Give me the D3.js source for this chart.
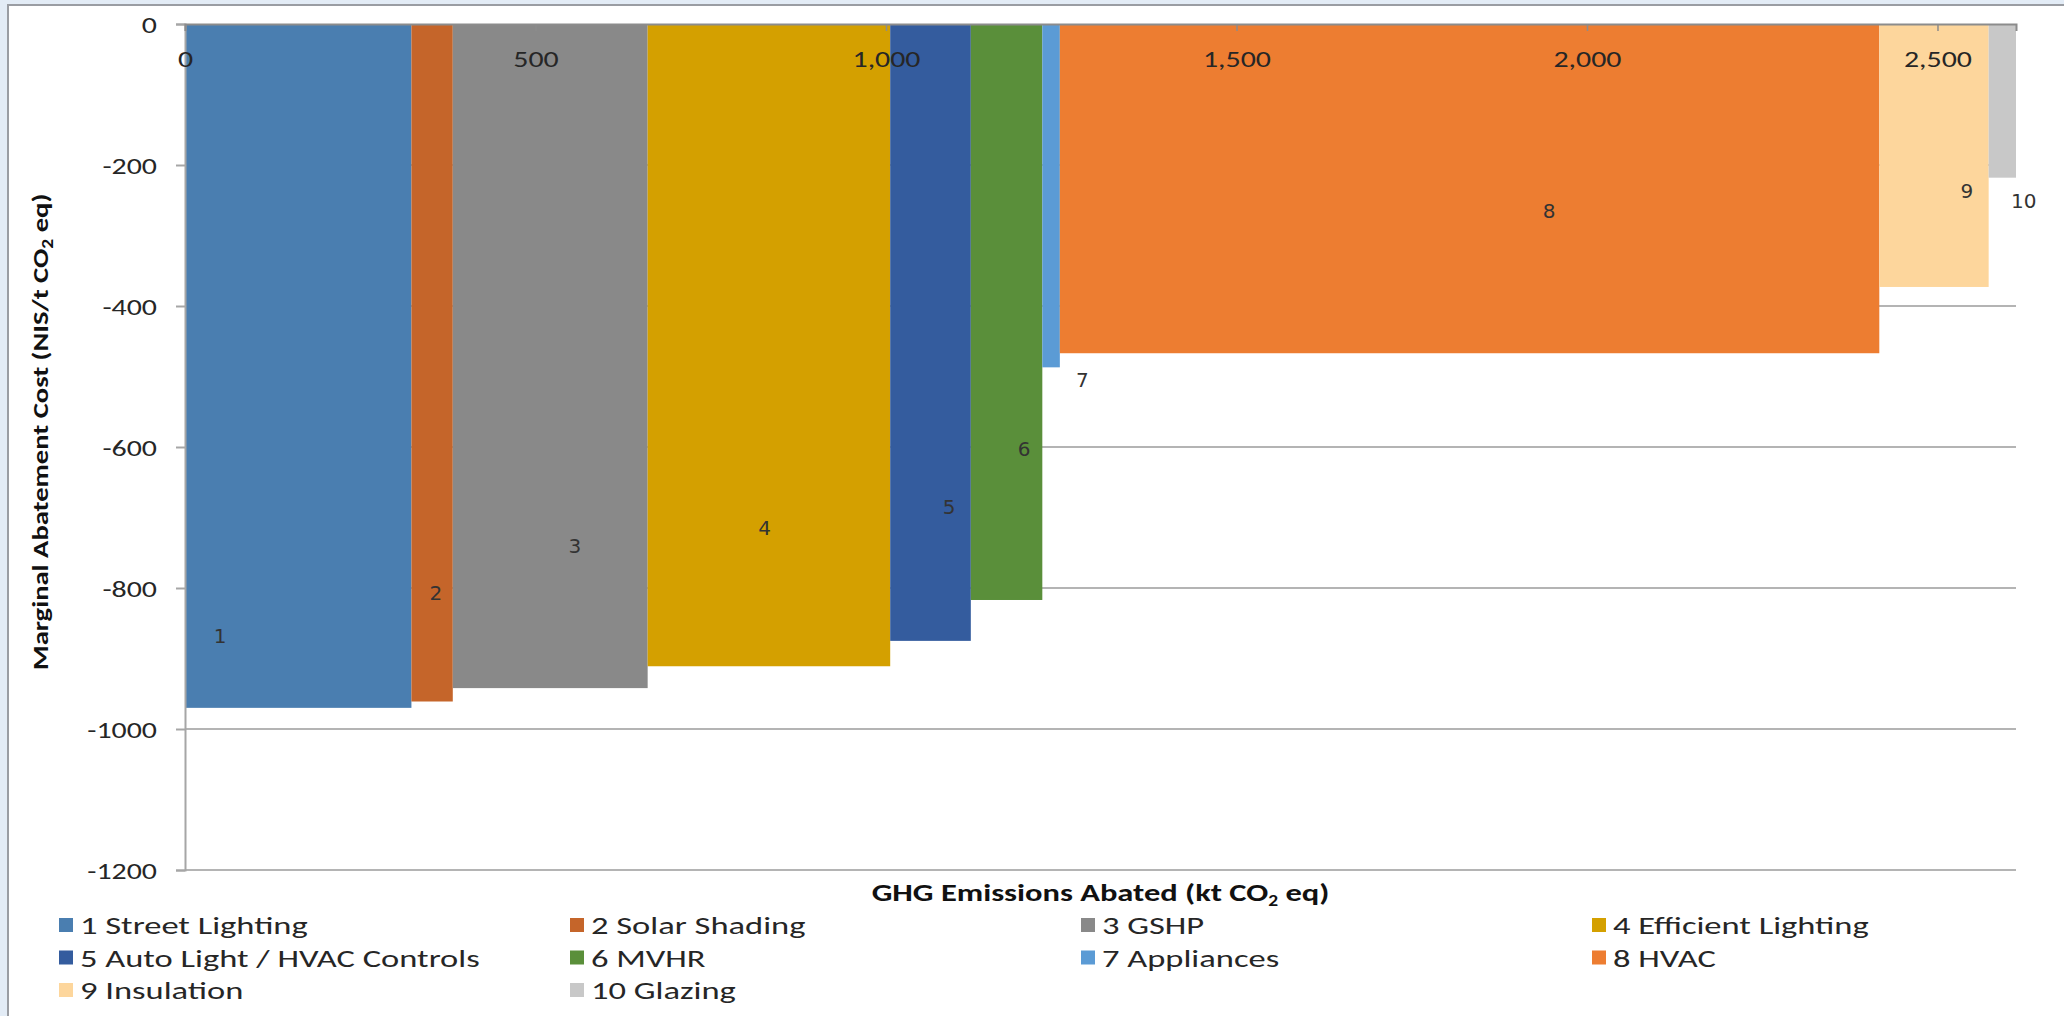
<!DOCTYPE html>
<html>
<head>
<meta charset="utf-8">
<script src="https://cdn.jsdelivr.net/npm/d3@7"></script>
<style>
  body { margin: 0; background: #fff; }
  svg { display: block; }
  text { font-family: Carlito, Calibri, Lato, sans-serif; fill: #262626; }
</style>
</head>
<body>
<svg width="2064" height="1016"></svg>
<script>
const width = 2064, height = 1016;

// abatement measures, in curve order
const measures = ["1 Street Lighting", "2 Solar Shading", "3 GSHP", "4 Efficient Lighting",
  "5 Auto Light / HVAC Controls", "6 MVHR", "7 Appliances", "8 HVAC", "9 Insulation", "10 Glazing"];
const abated = [323, 59, 278, 346, 115, 102, 25, 1169, 156, 39];            // kt CO2 eq
const cost = [-970, -961, -942, -911, -875, -817, -487, -467, -373, -218];   // NIS/t CO2 eq
// where the number labels sit, in data units
const labelX = [50, 358, 556, 827, 1090, 1197, 1280, 1946, 2542, 2623];
const labelY = [-868, -807, -740, -715, -685, -603, -505, -265, -237, -251];
const colors = ["#4a7eb0", "#c5652a", "#898989", "#d4a000", "#345c9e",
  "#5a8f3a", "#5b9bd5", "#ed7d31", "#fdd69c", "#c8c8c8"];
const xTicks = [0, 500, 1000, 1500, 2000, 2500];
const yTicks = [0, -200, -400, -600, -800, -1000, -1200];

const sx = 1.3; // the original picture is stretched sideways

const svg = d3.select("svg");

// window frame
svg.append("rect").attr("x", 0).attr("y", 0).attr("width", width).attr("height", height).attr("fill", "#e3ecf6");
svg.append("rect").attr("x", 8).attr("y", 5).attr("width", width - 8).attr("height", height - 5).attr("fill", "#fff");
svg.append("path").attr("d", `M8,${height}V5H${width}`).attr("fill", "none").attr("stroke", "#9a9da3").attr("stroke-width", 2);

const starts = [0, ...d3.cumsum(abated)].slice(0, abated.length);
const total = d3.sum(abated);

const x = d3.scaleLinear().domain([0, total]).range([185, 2016]);
const y = d3.scaleLinear().domain([-1200, 0]).range([870, 24]);

// gridlines
svg.append("g")
  .selectAll("line")
  .data(yTicks.filter(d => d !== 0))
  .enter().append("line")
  .attr("x1", x(0)).attr("x2", x(total))
  .attr("y1", d => y(d)).attr("y2", d => y(d))
  .attr("stroke", "#b4b4b4").attr("stroke-width", 2);

// bars
svg.append("g")
  .selectAll("rect")
  .data(abated)
  .enter().append("rect")
  .attr("x", (d, i) => x(starts[i]))
  .attr("width", (d, i) => x(starts[i] + d) - x(starts[i]))
  .attr("y", y(0))
  .attr("height", (d, i) => y(cost[i]) - y(0))
  .attr("fill", (d, i) => colors[i]);

// y axis
const yAxis = svg.append("g")
  .attr("transform", `translate(${x(0)},0)`)
  .call(d3.axisLeft(y).tickValues(yTicks).tickSize(9).tickFormat(d3.format("d")));
yAxis.select(".domain").attr("stroke", "#a6a6a6").attr("stroke-width", 2);
yAxis.selectAll(".tick line").attr("stroke", "#a6a6a6").attr("stroke-width", 2);
yAxis.selectAll(".tick text")
  .attr("x", null).attr("dy", "0.36em")
  .attr("transform", `translate(-28,0) scale(${sx},1)`)
  .style("font-size", "23px").style("fill", "#262626")
  .text(d => d === 0 ? "0" : d3.format("d")(d).replace("−", "-"));

// x axis along the zero line, labels hanging inside the plot
const xAxis = svg.append("g")
  .attr("transform", `translate(0,${y(0)})`)
  .call(d3.axisBottom(x).tickValues(xTicks).tickSize(7).tickFormat(d3.format(",")));
xAxis.select(".domain").attr("stroke", "#8c8c8c").attr("stroke-width", 2);
xAxis.selectAll(".tick line").attr("stroke", "#8c8c8c").attr("stroke-width", 1.5);
xAxis.selectAll(".tick text")
  .attr("y", null).attr("dy", null)
  .attr("transform", `translate(0,43) scale(${sx},1)`)
  .style("font-size", "23px").style("fill", "#262626");

// number labels
svg.append("g")
  .selectAll("text")
  .data(measures)
  .enter().append("text")
  .attr("x", (d, i) => x(labelX[i]))
  .attr("y", (d, i) => y(labelY[i]))
  .attr("dy", "0.36em")
  .attr("text-anchor", "middle")
  .style("font-family", "'DejaVu Sans', Verdana, sans-serif")
  .style("font-size", "20px")
  .style("fill", "#333")
  .text((d, i) => i + 1);

// axis titles
function co2Title(sel, a, b) {
  sel.append("tspan").text(a);
  sel.append("tspan").attr("dy", 5).style("font-size", "15px").text("2");
  sel.append("tspan").attr("dy", -5).text(b);
}
svg.append("g")
  .attr("transform", `translate(${(x(0) + x(total)) / 2},901) scale(${sx},1)`)
  .append("text")
  .attr("text-anchor", "middle")
  .style("font-size", "25px").style("font-weight", "bold").style("fill", "#111")
  .call(co2Title, "GHG  Emissions Abated (kt CO", " eq)");

svg.append("g")
  .attr("transform", `translate(48,432) rotate(-90) scale(${sx},1)`)
  .append("text")
  .attr("text-anchor", "middle")
  .style("font-size", "22px").style("font-weight", "bold").style("fill", "#111")
  .call(co2Title, "Marginal Abatement Cost (NIS/t CO", " eq)");

// legend, four columns
const legend = svg.append("g")
  .selectAll("g")
  .data(measures)
  .enter().append("g")
  .attr("transform", (d, i) => `translate(${59 + (i % 4) * 511},${925 + Math.floor(i / 4) * 32.5})`);
legend.append("rect")
  .attr("x", 0).attr("y", -7).attr("width", 14).attr("height", 14)
  .attr("fill", (d, i) => colors[i]);
legend.append("g")
  .attr("transform", `translate(21,0) scale(1.38,1)`)
  .append("text")
  .attr("dy", "0.36em")
  .style("font-size", "25px")
  .text(d => d);
</script>
</body>
</html>
